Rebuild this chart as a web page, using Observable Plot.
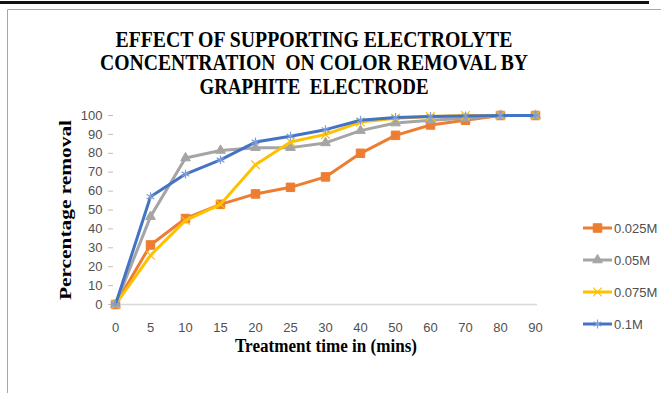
<!DOCTYPE html>
<html><head><meta charset="utf-8">
<script src="https://cdn.jsdelivr.net/npm/d3@7"></script>
<script src="https://cdn.jsdelivr.net/npm/@observablehq/plot@0.6"></script>
<style>
body{margin:0;background:#fff;}
#wrap{position:relative;width:661px;height:393px;overflow:hidden;background:#fff;}
#wrap > svg{position:absolute;left:0;top:0;}
.pre{white-space:pre;}
</style></head><body><div id="wrap"></div>
<script>
// ---- data ----
const times = [0, 5, 10, 15, 20, 25, 30, 40, 50, 60, 70, 80, 90];
const seriesNames = ["0.025M", "0.05M", "0.075M", "0.1M"];
const s025 = [0, 31.5, 45.5, 53, 58.5, 62, 67.5, 80, 89.5, 95, 97.5, 100, 100];
const s05  = [0, 46.5, 77.5, 81.5, 83, 83, 85.5, 92, 96, 97.5, 98.5, 100, 100];
const s075 = [0, 26, 44.5, 53, 74, 86, 90, 96.5, 98.5, 99.5, 100, 100, 100];
const s1   = [0, 57, 69, 76.5, 86, 89, 92.5, 97.5, 99, 99.5, 99.8, 100, 100];
const yTicks = [0, 10, 20, 30, 40, 50, 60, 70, 80, 90, 100];
const titleLines = ["EFFECT OF SUPPORTING ELECTROLYTE", "CONCENTRATION  ON COLOR REMOVAL BY", "GRAPHITE  ELECTRODE"];
const xTitle = "Treatment time in (mins)";
const yTitle = "Percentage removal";

// ---- styles ----
const colors = ["#ED7D31", "#A5A5A5", "#FFC000", "#4472C4"];
const markerStroke = ["#ED7D31", "#A5A5A5", "#FFC000", "#7F9FD8"];
const symbols = ["square", "triangle", "times", "asterisk"];
const radii = [4.8, 3.6, 4, 4.2];
const filled = [true, true, false, false];

const allSeries = [s025, s05, s075, s1];
const rows = allSeries.flatMap((vals, i) => times.map((t, j) => ({t, v: vals[j], s: seriesNames[i]})));

const marks = [
  Plot.ruleY([0], {stroke: "#D9D9D9", strokeWidth: 1.3}),
  Plot.axisY({ticks: yTicks, tickSize: 5, tickPadding: 6, label: null, stroke: "#BFBFBF", fill: "#505050"}),
  Plot.axisX({tickSize: 0, tickPadding: 18, label: null, fill: "#505050"})
];
seriesNames.forEach((name, i) => {
  const d = rows.filter(r => r.s === name);
  marks.push(Plot.line(d, {x: "t", y: "v", stroke: colors[i], strokeWidth: 3, curve: "linear"}));
  marks.push(Plot.dot(d, filled[i]
    ? {x: "t", y: "v", symbol: () => symbols[i], r: radii[i], fill: colors[i], stroke: colors[i], strokeWidth: 1}
    : {x: "t", y: "v", symbol: () => symbols[i], r: radii[i], fill: "none", stroke: markerStroke[i], strokeWidth: 1.2}));
});

const chart = Plot.plot({
  width: 661, height: 393,
  marginLeft: 113, marginRight: 124, marginTop: 115, marginBottom: 89,
  x: {type: "point", domain: times, padding: 0},
  y: {domain: [0, 100]},
  symbol: {type: "identity"},
  style: {fontFamily: "'Liberation Sans', Arial, sans-serif", fontSize: "13px", background: "transparent", overflow: "visible"},
  marks
});
const wrap = document.getElementById("wrap");
wrap.appendChild(chart);

// ---- overlay: frame, titles, legend ----
const svg = d3.select(wrap).append("svg").attr("width", 661).attr("height", 393);
svg.append("rect").attr("x", 0).attr("y", 1).attr("width", 649).attr("height", 3).attr("fill", "#111");
svg.append("line").attr("x1", 7.5).attr("x2", 661).attr("y1", 9.5).attr("y2", 9.5).attr("stroke", "#A6A6A6");
svg.append("line").attr("x1", 7.5).attr("x2", 7.5).attr("y1", 9.5).attr("y2", 393).attr("stroke", "#A6A6A6");

const serif = "'Liberation Serif', 'Times New Roman', serif";
const tl = [{y: 46.5, len: 397}, {y: 70, len: 428}, {y: 93.5, len: 229}];
titleLines.forEach((t, i) => {
  svg.append("text").attr("class", "pre").attr("x", 314).attr("y", tl[i].y).attr("text-anchor", "middle")
    .attr("font-family", serif).attr("font-weight", "bold").attr("font-size", 24)
    .attr("textLength", tl[i].len).attr("lengthAdjust", "spacingAndGlyphs").attr("fill", "#000").text(t);
});
svg.append("text").attr("x", 326).attr("y", 352).attr("text-anchor", "middle")
  .attr("font-family", serif).attr("font-weight", "bold").attr("font-size", 18)
  .attr("textLength", 182).attr("lengthAdjust", "spacingAndGlyphs").text(xTitle);
svg.append("text").attr("transform", "translate(71,210) rotate(-90)").attr("text-anchor", "middle")
  .attr("font-family", serif).attr("font-weight", "bold").attr("font-size", 17)
  .attr("textLength", 180).attr("lengthAdjust", "spacingAndGlyphs").text(yTitle);

const symMap = {square: d3.symbolSquare, triangle: d3.symbolTriangle, times: d3.symbolTimes, asterisk: d3.symbolAsterisk};
const legY = [228, 260, 292, 324];
seriesNames.forEach((name, i) => {
  const g = svg.append("g").attr("transform", `translate(0,${legY[i]})`);
  g.append("line").attr("x1", 583).attr("x2", 612).attr("stroke", colors[i]).attr("stroke-width", 3);
  g.append("path").attr("transform", "translate(597.5,0)")
    .attr("d", d3.symbol(symMap[symbols[i]], Math.PI * radii[i] * radii[i])())
    .attr("fill", filled[i] ? colors[i] : "none").attr("stroke", markerStroke[i]).attr("stroke-width", filled[i] ? 1 : 1.2);
  g.append("text").attr("x", 614).attr("y", 4.6).attr("font-family", "'Liberation Sans', Arial, sans-serif")
    .attr("font-size", 13).attr("fill", "#505050").text(name);
});
</script></body></html>
